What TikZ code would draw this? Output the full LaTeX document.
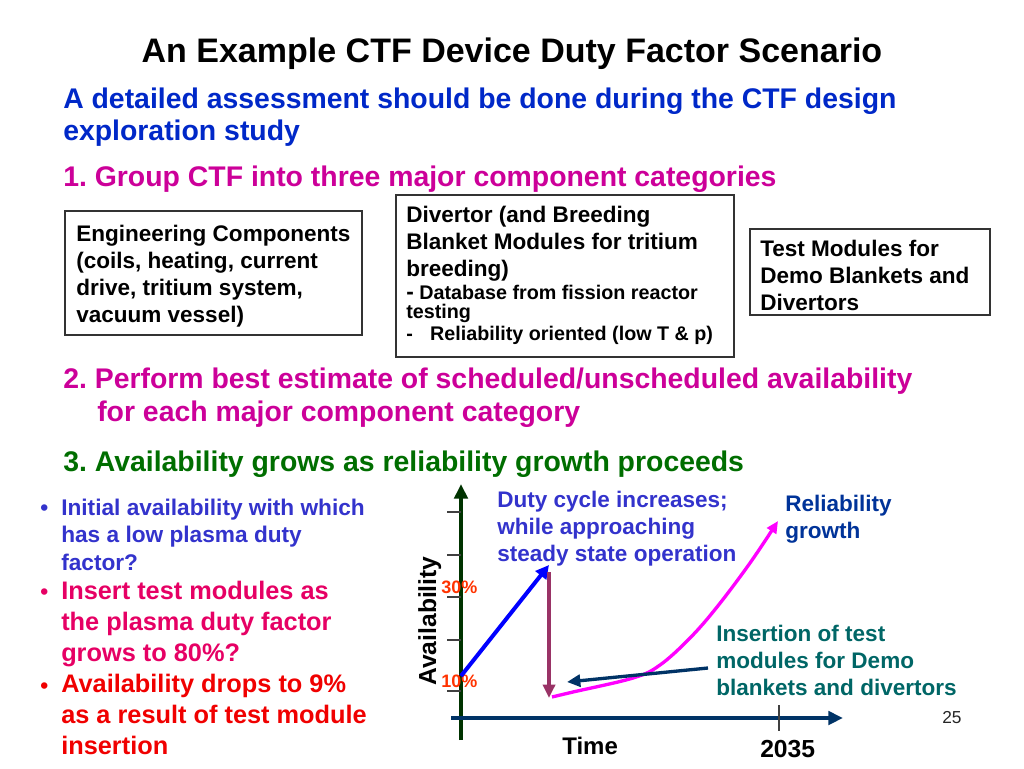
\documentclass[tikz,border=0pt]{standalone}
\usepackage{fontspec}
\setmainfont{Liberation Sans}
\usetikzlibrary{arrows.meta}
\definecolor{subblue}{RGB}{0,40,200}
\definecolor{itemmag}{RGB}{204,0,153}
\definecolor{itemgreen}{RGB}{0,110,0}
\definecolor{bulblue}{RGB}{51,51,204}
\definecolor{bulpink}{RGB}{230,0,100}
\definecolor{bulred}{RGB}{240,0,0}
\definecolor{axgreen}{RGB}{0,51,0}
\definecolor{axblue}{RGB}{0,51,102}
\definecolor{dropcol}{RGB}{153,51,102}
\definecolor{relblue}{RGB}{0,51,153}
\definecolor{insteal}{RGB}{0,102,102}
\definecolor{pctred}{RGB}{255,51,0}
\definecolor{growmag}{RGB}{255,0,255}
\definecolor{risblue}{RGB}{0,0,255}
\newcommand{\fs}[2]{\frenchspacing\bfseries\fontsize{#1}{#2}\selectfont}
\tikzset{
  txt/.style = {inner sep = 0pt, anchor = base west, align = left},
  boxline/.style = {draw = black!80, line width = 1pt},
  tipbig/.style = {-{Triangle[length = 11, width = 10]}}
}
\begin{document}
\begin{tikzpicture}[x = 0.75pt, y = -0.75pt]
        \useasboundingbox (0,0) rectangle (1024,768);
        % heading lines (base anchor = last line)
        \node[txt, anchor = base, font = \fs{25.5}{30}] (title) at (512,62) {An Example CTF Device Duty Factor Scenario};
        \node[txt, text = subblue, font = \fs{21.3}{24}] (sub) at (63,140) {A detailed assessment should be done during the CTF design\\exploration study};
        \node[txt, text = itemmag, font = \fs{21.3}{24}] (one) at (63,186) {1. Group CTF into three major component categories};
        \node[txt, text = itemmag, font = \fs{21.3}{24.75}] (two) at (63,421) {2. Perform best estimate of scheduled/unscheduled availability\\\hspace*{25.5pt}for each major component category};
        \node[txt, text = itemgreen, font = \fs{21.3}{24}] (three) at (63,471) {3. Availability grows as reliability growth proceeds};
        % the three boxes
        \draw[boxline] (65,211) rectangle (362,335);
        \draw[boxline] (396,195) rectangle (734,357);
        \draw[boxline] (750,229) rectangle (990,315);
        \node[txt, font = \fs{16.9}{20.25}] (eng) at (76,322) {Engineering Components\\(coils, heating, current\\drive, tritium system,\\vacuum vessel)};
        \node[txt, font = \fs{16.9}{20.25}] (div) at (406,276) {Divertor (and Breeding\\Blanket Modules for tritium\\breeding)};
        \node[txt, font = \fs{14.8}{14.25}] (divdb) at (406,318) {{\fontsize{17}{14.25}\selectfont -} Database from fission reactor\\testing};
        \node[txt, font = \fs{14.8}{14.25}] (divrel) at (406,340) {-\hspace{13pt}Reliability oriented (low T \& p)};
        \node[txt, font = \fs{16.9}{20.25}] (test) at (760,310) {Test Modules for\\Demo Blankets and\\Divertors};
        % bullets on the left
        \begin{scope}[every node/.append style = {txt}]
            \node[text = bulblue, font = \fs{17}{20.6}] (b1dot) at (40,515) {\textbullet};
            \node[text = bulblue, font = \fs{17}{20.6}] (b1) at (61,570) {Initial availability with which\\has a low plasma duty\\factor?};
            \node[text = bulpink, font = \fs{17}{20.6}] (b2dot) at (40,599) {\textbullet};
            \node[text = bulpink, font = \fs{19}{23.25}] (b2) at (61,661) {Insert test modules as\\the plasma duty factor\\grows to 80\%?};
            \node[text = bulred, font = \fs{17}{20.6}] (b3dot) at (40,693) {\textbullet};
            \node[text = bulred, font = \fs{19}{23.25}] (b3) at (61,754) {Availability drops to 9\%\\as a result of test module\\insertion};
        \end{scope}
        % axes
        \coordinate (yfoot) at (461,740);
        \coordinate (ytop) at (461,484);
        \coordinate (xfoot) at (451,718);
        \coordinate (xtip) at (843,718);
        \draw[axgreen, line width = 3pt, tipbig] (yfoot) -- (ytop);
        \draw[axblue, line width = 3pt, tipbig] (xfoot) -- (xtip);
        \foreach \ty in {512,555,597,640,691}
            \draw[black!75, line width = 0.8pt] (447,\ty) -- (461,\ty);
        \draw[black!75, line width = 0.8pt] (779,705) -- (779,731);
        \node[txt, text = pctred, font = \fs{13.5}{16}] (p30) at (441,593) {30\%};
        \node[txt, text = pctred, font = \fs{13.5}{16}] (p10) at (441,687) {10\%};
        \node[txt, rotate = 90, font = \fs{18.5}{22}] (avail) at (436,686) {Availability};
        \node[txt, font = \fs{18}{22}] (time) at (562,754) {Time};
        \node[txt, font = \fs{18.5}{22}] (year) at (760,757) {2035};
        % curves and arrows
        \coordinate (start) at (461,676);
        \coordinate (peak) at (549,565);
        \coordinate (droptop) at (549,572);
        \coordinate (dropend) at (549,698);
        \coordinate (insfrom) at (708,668);
        \coordinate (insto) at (567,682);
        \draw[risblue, line width = 3pt, -{Triangle[length = 10, width = 10]}] (start) -- (peak);
        \draw[dropcol, line width = 2.5pt, -{Triangle[length = 10, width = 9]}] (droptop) -- (dropend);
        \draw[growmag, line width = 2.5pt, -{Triangle[length = 9, width = 8]}] plot[smooth, tension = 0.6] coordinates{(552,697) (573,692) (633,678) (660,665) (690,638) (717,607) (750,563) (778,521)};
        \draw[axblue, line width = 2.5pt, -{Triangle[length = 10, width = 9]}] (insfrom) -- (insto);
        % graph labels
        \begin{scope}[every node/.append style = {txt}]
            \node[text = bulblue, font = \fs{16.9}{20}] (duty) at (497,561) {Duty cycle increases;\\while approaching\\steady state operation};
            \node[text = relblue, font = \fs{16.9}{20}] (rel) at (785,538) {Reliability\\growth};
            \node[text = insteal, font = \fs{16.9}{20}] (ins) at (716,695) {Insertion of test\\modules for Demo\\blankets and divertors};
        \end{scope}
        \node[txt, text = black!85, font = \fontsize{13}{16}\selectfont] (page) at (942,723) {25};
    \end{tikzpicture}
\end{document}
